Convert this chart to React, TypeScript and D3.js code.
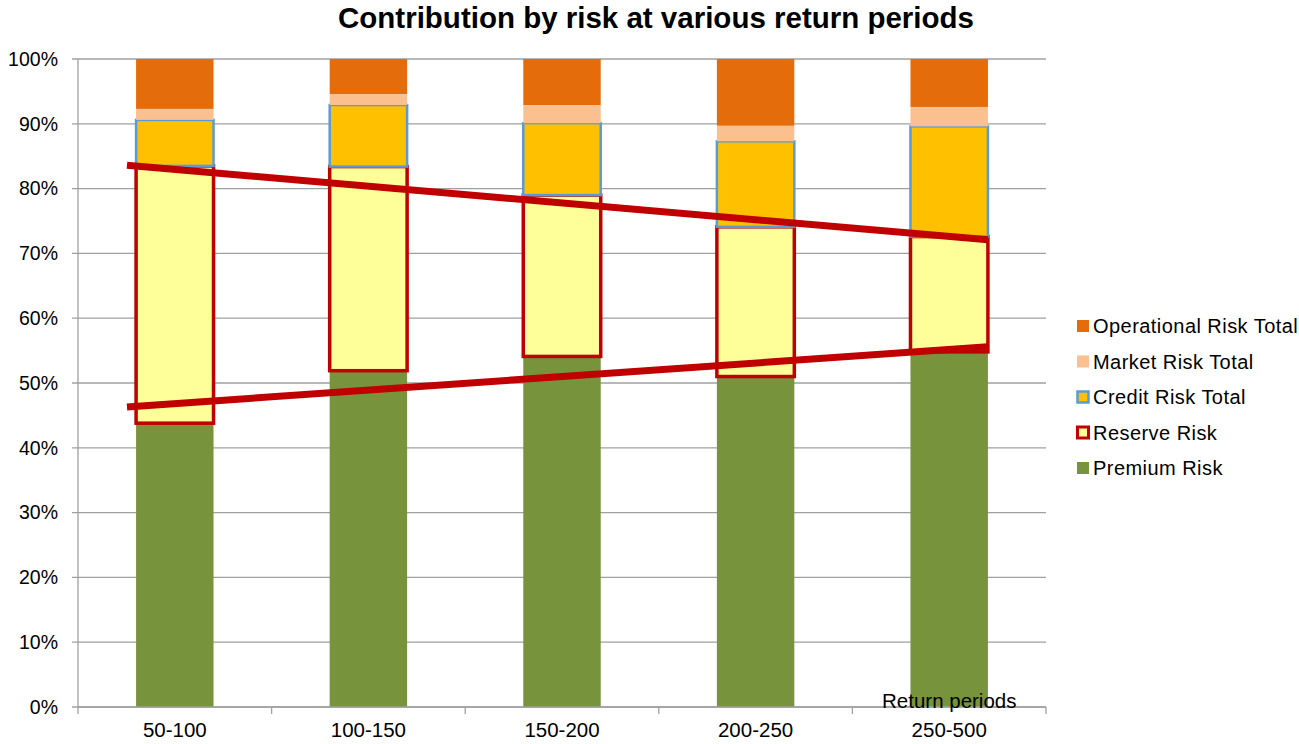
import React from "react";
import * as d3 from "d3";

const categories = ["50-100", "100-150", "150-200", "200-250", "250-500"];
const premiumRisk = [43.8, 51.9, 54.1, 51.0, 54.8];
const reserveRisk = [39.7, 31.5, 24.9, 23.1, 17.8];
const creditRisk = [7.1, 9.5, 11.1, 13.2, 17.0];
const marketRisk = [1.7, 1.7, 2.8, 2.4, 3.0];
const operationalRisk = [7.7, 5.4, 7.1, 10.3, 7.4];
const yTicks = [0, 10, 20, 30, 40, 50, 60, 70, 80, 90, 100];
// trend lines: [category index, value %]
const upperTrend: [number, number][] = [[-0.247, 83.6], [4.2, 72.1]];
const lowerTrend: [number, number][] = [[-0.247, 46.3], [4.2, 55.6]];

const seriesKeys = ["Premium Risk", "Reserve Risk", "Credit Risk Total", "Market Risk Total", "Operational Risk Total"];
const seriesData = [premiumRisk, reserveRisk, creditRisk, marketRisk, operationalRisk];
const fills: Record<string, string> = {
  "Premium Risk": "#77933C",
  "Reserve Risk": "#FFFF99",
  "Credit Risk Total": "#FFC000",
  "Market Risk Total": "#FAC090",
  "Operational Risk Total": "#E46C0A",
};
const strokes: Record<string, [string, number] | null> = {
  "Premium Risk": null,
  "Reserve Risk": ["#C00000", 3.5],
  "Credit Risk Total": ["#5B9BD5", 2.5],
  "Market Risk Total": null,
  "Operational Risk Total": null,
};

const W = 1299, H = 744;
const L = 78, R = 1046, T = 59, B = 707;
const FONT = "'Liberation Sans', Arial, sans-serif";

export default function App() {
  const rows = categories.map((c, i) => {
    const o: any = { cat: c };
    seriesKeys.forEach((k, j) => (o[k] = seriesData[j][i]));
    return o;
  });
  const stacked = d3.stack<any>().keys(seriesKeys)(rows);
  const x = d3.scaleBand<string>().domain(categories).range([L, R]).paddingInner(0.6).paddingOuter(0.3);
  const y = d3.scaleLinear().domain([0, 100]).range([B, T]);
  const xi = d3.scaleLinear().domain([0, categories.length - 1])
    .range([x(categories[0])! + x.bandwidth() / 2, x(categories[categories.length - 1])! + x.bandwidth() / 2]);
  const line = d3.line<[number, number]>().x(d => xi(d[0])).y(d => y(d[1]));
  const step = x.step();
  const boundaries = d3.range(categories.length + 1).map(i => L + i * step);
  const legendItems = [...seriesKeys].reverse();

  return (
    <svg width={W} height={H} style={{ position: "absolute", left: 0, top: 0, background: "#fff" }} fontFamily={FONT}>
      <text x={656} y={28} textAnchor="middle" fontSize={29.5} fontWeight="bold" fill="#000">
        Contribution by risk at various return periods
      </text>
      {yTicks.map(t => (
        <g key={t}>
          <line x1={72} x2={R} y1={y(t)} y2={y(t)} stroke="#A0A0A0" strokeWidth={1.3} />
          <text x={58} y={y(t)} dy="0.35em" textAnchor="end" fontSize={19.5} fill="#000">{t}%</text>
        </g>
      ))}
      <line x1={L} x2={L} y1={T} y2={B + 7} stroke="#A0A0A0" strokeWidth={1.3} />
      {boundaries.slice(1).map((bx, i) => (
        <line key={i} x1={bx} x2={bx} y1={B} y2={B + 7} stroke="#A0A0A0" strokeWidth={1.3} />
      ))}
      {stacked.map(s => (
        <g key={s.key}>
          {s.map((d, i) => {
            const st = strokes[s.key];
            return (
              <rect key={i} x={x(categories[i])} width={x.bandwidth()} y={y(d[1])} height={y(d[0]) - y(d[1])}
                fill={fills[s.key]} stroke={st ? st[0] : "none"} strokeWidth={st ? st[1] : 0} />
            );
          })}
        </g>
      ))}
      <line x1={L} x2={R} y1={B} y2={B} stroke="#A0A0A0" strokeWidth={1.3} />
      <path d={line(upperTrend)!} stroke="#C00000" strokeWidth={7} fill="none" />
      <path d={line(lowerTrend)!} stroke="#C00000" strokeWidth={7} fill="none" />
      {categories.map(c => (
        <text key={c} x={x(c)! + x.bandwidth() / 2} y={737} textAnchor="middle" fontSize={20.5} fill="#000">{c}</text>
      ))}
      <text x={882} y={708} fontSize={20.5} fill="#000">Return periods</text>
      {legendItems.map((k, i) => {
        const cy = 326 + i * 35.5;
        const st = strokes[k];
        const sz = st ? 11 : 12;
        return (
          <g key={k}>
            <rect x={1083 - sz / 2} y={cy - sz / 2} width={sz} height={sz} fill={fills[k]}
              stroke={st ? st[0] : "none"} strokeWidth={st ? (k === "Reserve Risk" ? 3 : 2.5) : 0} />
            <text x={1093} y={cy} dy="0.35em" fontSize={20} letterSpacing={0.45} fill="#000">{k}</text>
          </g>
        );
      })}
    </svg>
  );
}
